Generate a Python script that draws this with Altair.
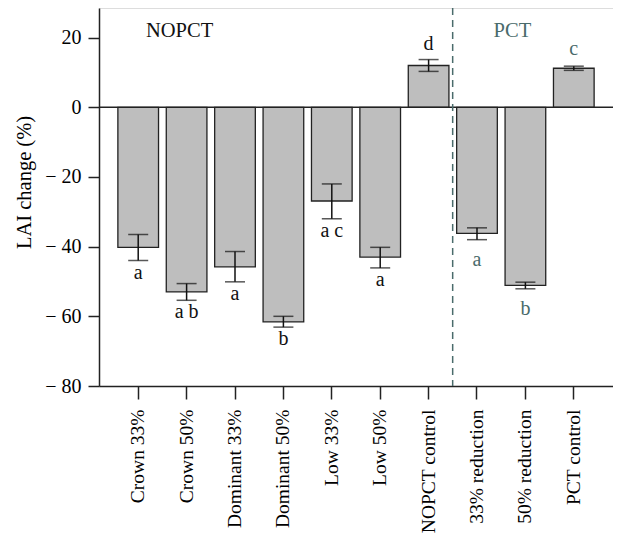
import altair as alt
import pandas as pd

categories = ["Crown 33%", "Crown 50%", "Dominant 33%", "Dominant 50%", "Low 33%",
              "Low 50%", "NOPCT control", "33% reduction", "50% reduction", "PCT control"]
values = [-40.2, -53.0, -45.8, -61.6, -26.9, -43.0, 12.0, -36.2, -51.1, 11.2]
err_low = [-44.0, -55.4, -50.1, -63.1, -32.0, -46.1, 10.3, -38.0, -52.1, 10.6]
err_high = [-36.5, -50.6, -41.4, -60.0, -22.0, -40.2, 13.7, -34.6, -50.2, 11.8]
letters = ["a", "a b", "a", "b", "a c", "a", "d", "a", "b", "c"]
groups = ["NOPCT"] * 7 + ["PCT"] * 3
y_ticks = [-80, -60, -40, -20, 0, 20]

df = pd.DataFrame({"cat": categories, "value": values, "lo": err_low,
                   "hi": err_high, "letter": letters, "group": groups})

FONT = "Liberation Serif"
SLATE = "#4a6b6b"
W, H = 514, 378

xscale = alt.Scale(paddingInner=0.16, paddingOuter=0.39)
x = alt.X("cat:N", sort=categories, scale=xscale, title=None,
          axis=alt.Axis(labelAngle=-90, labelAlign="right", labelBaseline="middle",
                        labelFont=FONT, labelFontSize=19.5, labelColor="black",
                        tickSize=13, tickColor="#222", tickWidth=1.5,
                        domainColor="#222", domainWidth=1.5, labelPadding=10))
yscale = alt.Scale(domain=[-80, 28.5], nice=False, zero=False)
y = alt.Y("value:Q", scale=yscale, title="LAI change (%)",
          axis=alt.Axis(values=y_ticks, grid=False, labelFont=FONT, labelFontSize=20,
                        labelExpr="datum.value < 0 ? '\u2212 ' + abs(datum.value) : datum.label",
                        labelColor="black", tickSize=11, tickColor="#222", tickWidth=1.5,
                        domainColor="#222", domainWidth=1.5, labelPadding=7,
                        titleFont=FONT, titleFontSize=20.5, titleFontWeight="normal",
                        titleColor="black", titleX=-75, titleY=174,
                        titleBaseline="middle", titleAlign="center", titleAngle=-90))

base = alt.Chart(df)

bars = base.mark_bar(fill="#bebebe", stroke="#222", strokeWidth=1.3).encode(x=x, y=y)

zero = alt.Chart(pd.DataFrame({"z": [0]})).mark_rule(color="#222", strokeWidth=1.5).encode(
    y=alt.Y("z:Q", scale=yscale), x=alt.value(0), x2=alt.value(W))

divider = alt.Chart(pd.DataFrame({"cat": ["33% reduction"]})).mark_rule(
    color=SLATE, strokeWidth=1.5, strokeDash=[7, 5]).encode(
    x=alt.X("cat:N", sort=categories, scale=xscale),
    xOffset=alt.value(-4),
    y=alt.value(0), y2=alt.value(H))

err = base.mark_rule(color="#111", strokeWidth=1.5).encode(
    x=alt.X("cat:N", sort=categories, scale=xscale),
    y=alt.Y("lo:Q", scale=yscale), y2="hi:Q")
cap_lo = base.mark_tick(color="#111", thickness=1.5, size=20).encode(
    x=alt.X("cat:N", sort=categories, scale=xscale), y=alt.Y("lo:Q", scale=yscale))
cap_hi = base.mark_tick(color="#111", thickness=1.5, size=20).encode(
    x=alt.X("cat:N", sort=categories, scale=xscale), y=alt.Y("hi:Q", scale=yscale))

def letters_layer(flt, field, dy, color):
    return base.transform_filter(flt).mark_text(
        font=FONT, fontSize=20, baseline="alphabetic", dy=dy, color=color).encode(
        x=alt.X("cat:N", sort=categories, scale=xscale),
        y=alt.Y(f"{field}:Q", scale=yscale), text="letter:N")

t1 = letters_layer("datum.value < 0 && datum.group == 'NOPCT'", "lo", 18, "#111")
t2 = letters_layer("datum.value < 0 && datum.group == 'PCT'", "lo", 26, SLATE)
t3 = letters_layer("datum.value > 0 && datum.group == 'NOPCT'", "hi", -10, "#111")
t4 = letters_layer("datum.value > 0 && datum.group == 'PCT'", "hi", -11, SLATE)

group_df = pd.DataFrame({"cat": ["Crown 50%", "50% reduction"], "label": ["NOPCT", "PCT"],
                         "yy": [22, 22]})
gtext_n = alt.Chart(group_df).transform_filter("datum.label == 'NOPCT'").mark_text(
    font=FONT, fontSize=20.5, baseline="middle", dx=-7, color="#111").encode(
    x=alt.X("cat:N", sort=categories, scale=xscale), y=alt.Y("yy:Q", scale=yscale), text="label:N")
gtext_p = alt.Chart(group_df).transform_filter("datum.label == 'PCT'").mark_text(
    font=FONT, fontSize=20.5, baseline="middle", dx=-13, color=SLATE).encode(
    x=alt.X("cat:N", sort=categories, scale=xscale), y=alt.Y("yy:Q", scale=yscale), text="label:N")

chart = alt.layer(bars, zero, divider, err, cap_lo, cap_hi, t1, t2, t3, t4, gtext_n, gtext_p).properties(
    width=W, height=H, autosize="none",
    padding={"left": 91, "top": 0, "right": 0, "bottom": 150}
).configure_view(stroke="#222", strokeWidth=1.5).configure(background="white")

chart.save("out.html", embed_options={"renderer": "svg", "actions": False})
